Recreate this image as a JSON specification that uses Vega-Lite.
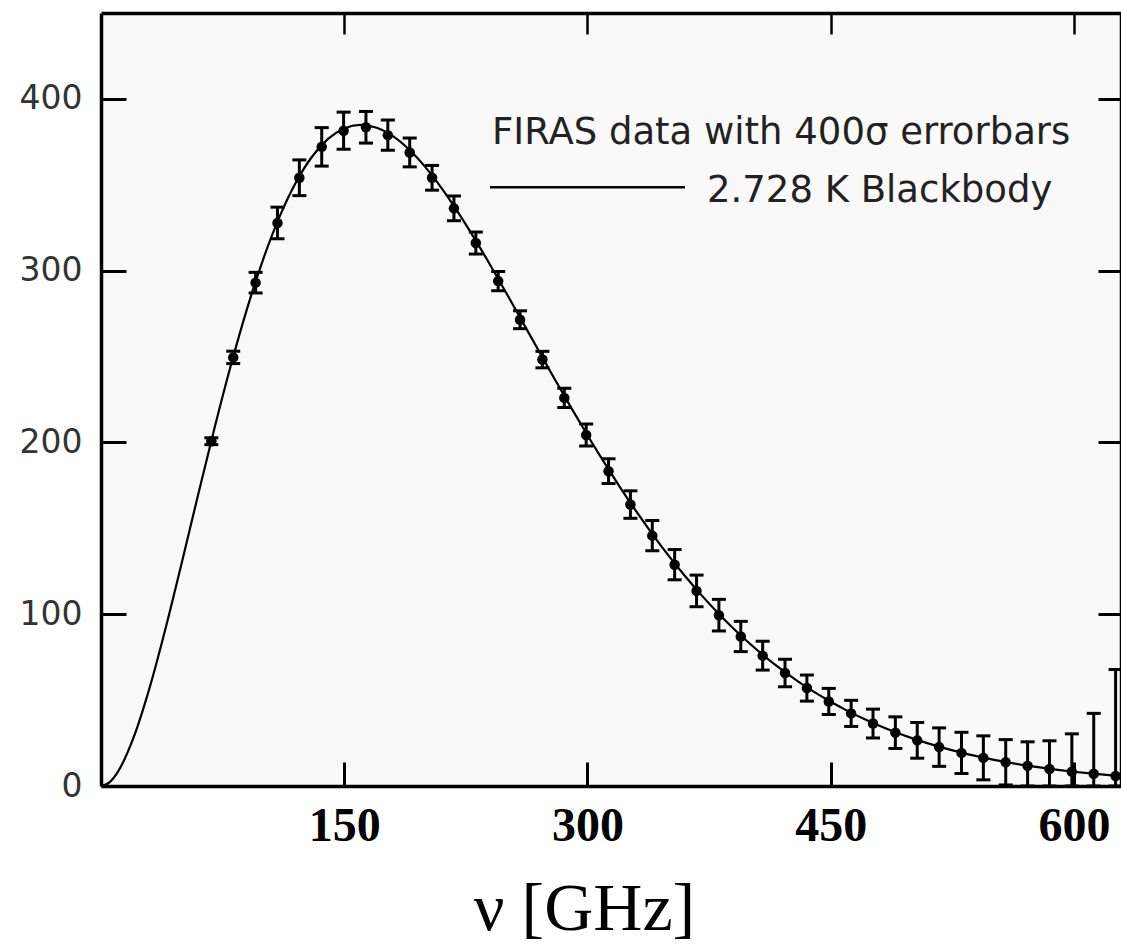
{
  "$schema": "https://vega.github.io/schema/vega-lite/v6.json",
  "width": 1020,
  "height": 773,
  "autosize": {"type": "none"},
  "padding": {"left": 101, "top": 13, "right": 0, "bottom": 159},
  "background": "white",
  "config": {"view": {"fill": "#f9f9f9", "stroke": null}},
  "datasets": {
    "firas": [
      {"nu": 68.05, "I": 200.72, "err": 2.0},
      {"nu": 81.54, "I": 249.51, "err": 3.6},
      {"nu": 95.33, "I": 293.02, "err": 6.0},
      {"nu": 108.82, "I": 327.77, "err": 9.2},
      {"nu": 122.32, "I": 354.08, "err": 10.4},
      {"nu": 136.11, "I": 372.08, "err": 11.2},
      {"nu": 149.6, "I": 381.49, "err": 10.8},
      {"nu": 163.39, "I": 383.48, "err": 9.2},
      {"nu": 176.88, "I": 378.9, "err": 8.8},
      {"nu": 190.37, "I": 368.83, "err": 8.4},
      {"nu": 204.16, "I": 354.06, "err": 7.2},
      {"nu": 217.65, "I": 336.28, "err": 7.2},
      {"nu": 231.14, "I": 316.08, "err": 6.4},
      {"nu": 244.93, "I": 293.92, "err": 5.6},
      {"nu": 258.42, "I": 271.43, "err": 5.2},
      {"nu": 272.21, "I": 248.24, "err": 4.8},
      {"nu": 285.7, "I": 225.94, "err": 5.6},
      {"nu": 299.19, "I": 204.33, "err": 6.4},
      {"nu": 312.98, "I": 183.26, "err": 7.2},
      {"nu": 326.47, "I": 163.83, "err": 8.0},
      {"nu": 339.96, "I": 145.75, "err": 8.8},
      {"nu": 353.75, "I": 128.84, "err": 8.8},
      {"nu": 367.25, "I": 113.57, "err": 9.2},
      {"nu": 381.04, "I": 99.45, "err": 9.2},
      {"nu": 394.53, "I": 87.04, "err": 8.8},
      {"nu": 408.02, "I": 75.88, "err": 8.4},
      {"nu": 421.81, "I": 65.77, "err": 8.0},
      {"nu": 435.3, "I": 57.01, "err": 7.6},
      {"nu": 448.79, "I": 49.22, "err": 7.6},
      {"nu": 462.58, "I": 42.27, "err": 7.6},
      {"nu": 476.07, "I": 36.35, "err": 8.4},
      {"nu": 489.86, "I": 31.06, "err": 9.2},
      {"nu": 503.35, "I": 26.58, "err": 10.4},
      {"nu": 516.84, "I": 22.64, "err": 11.2},
      {"nu": 530.63, "I": 19.26, "err": 12.0},
      {"nu": 544.12, "I": 16.39, "err": 12.8},
      {"nu": 557.91, "I": 13.81, "err": 13.2},
      {"nu": 571.4, "I": 11.72, "err": 14.0},
      {"nu": 584.89, "I": 9.92, "err": 16.4},
      {"nu": 598.69, "I": 8.36, "err": 22.0},
      {"nu": 612.18, "I": 7.09, "err": 35.2},
      {"nu": 625.67, "I": 5.8, "err": 62.0}
    ],
    "blackbody": [
      {"nu": 0, "I": 0}, {"nu": 5, "I": 2.0}, {"nu": 10, "I": 7.67}, {"nu": 20, "I": 27.97},
      {"nu": 30, "I": 57.26}, {"nu": 40, "I": 92.4}, {"nu": 50, "I": 130.71}, {"nu": 60, "I": 169.97},
      {"nu": 70, "I": 208.42}, {"nu": 80, "I": 244.66}, {"nu": 90, "I": 277.64}, {"nu": 100, "I": 306.64},
      {"nu": 110, "I": 331.18}, {"nu": 120, "I": 351.04}, {"nu": 130, "I": 366.17}, {"nu": 140, "I": 376.69},
      {"nu": 150, "I": 382.82}, {"nu": 160, "I": 384.87}, {"nu": 170, "I": 383.23}, {"nu": 180, "I": 378.3},
      {"nu": 190, "I": 370.51}, {"nu": 200, "I": 360.3}, {"nu": 210, "I": 348.09}, {"nu": 220, "I": 334.28},
      {"nu": 230, "I": 319.25}, {"nu": 240, "I": 303.34}, {"nu": 250, "I": 286.86}, {"nu": 260, "I": 270.08},
      {"nu": 270, "I": 253.24}, {"nu": 280, "I": 236.54}, {"nu": 290, "I": 220.14}, {"nu": 300, "I": 204.19},
      {"nu": 310, "I": 188.8}, {"nu": 320, "I": 174.04}, {"nu": 330, "I": 159.99}, {"nu": 340, "I": 146.68},
      {"nu": 350, "I": 134.14}, {"nu": 360, "I": 122.38}, {"nu": 370, "I": 111.4}, {"nu": 380, "I": 101.18},
      {"nu": 390, "I": 91.72}, {"nu": 400, "I": 82.98}, {"nu": 410, "I": 74.93}, {"nu": 420, "I": 67.55},
      {"nu": 430, "I": 60.79}, {"nu": 440, "I": 54.62}, {"nu": 450, "I": 49.0}, {"nu": 460, "I": 43.89},
      {"nu": 470, "I": 39.26}, {"nu": 480, "I": 35.07}, {"nu": 490, "I": 31.29}, {"nu": 500, "I": 27.88},
      {"nu": 510, "I": 24.81}, {"nu": 520, "I": 22.06}, {"nu": 530, "I": 19.59}, {"nu": 540, "I": 17.38},
      {"nu": 550, "I": 15.4}, {"nu": 560, "I": 13.63}, {"nu": 570, "I": 12.05}, {"nu": 580, "I": 10.65},
      {"nu": 590, "I": 9.4}, {"nu": 600, "I": 8.29}, {"nu": 610, "I": 7.31}, {"nu": 620, "I": 6.44},
      {"nu": 630, "I": 5.66}
    ]
  },
  "layer": [
    {
      "data": {"name": "blackbody"},
      "mark": {"type": "line", "color": "black", "strokeWidth": 2.2, "interpolate": "monotone", "clip": true},
      "encoding": {
        "x": {
          "field": "nu", "type": "quantitative",
          "scale": {"domain": [0, 629], "nice": false, "zero": false},
          "axis": {
            "orient": "bottom", "values": [150, 300, 450, 600], "grid": false,
            "tickSize": -24, "tickWidth": 3, "tickColor": "black",
            "domainColor": "black", "domainWidth": 3.5,
            "labelFont": "Liberation Serif", "labelFontWeight": "bold", "labelFontSize": 48,
            "labelColor": "black", "labelBaseline": "alphabetic", "labelPadding": 78,
            "labelFlush": false, "labelOverlap": false,
            "title": "ν [GHz]", "titleFont": "Liberation Serif", "titleFontSize": 68,
            "titleFontWeight": "normal", "titleColor": "black",
            "titleX": 483, "titleY": 143, "titleBaseline": "alphabetic", "titleAlign": "center"
          }
        },
        "y": {
          "field": "I", "type": "quantitative",
          "scale": {"domain": [0, 450], "nice": false, "clamp": true},
          "axis": {
            "orient": "left", "values": [0, 100, 200, 300, 400], "grid": false,
            "tickSize": -25, "tickWidth": 3, "tickColor": "black",
            "domainColor": "black", "domainWidth": 3.5,
            "labelFont": "DejaVu Sans", "labelFontSize": 33, "labelColor": "#333333",
            "labelPadding": 44, "labelBaseline": "middle", "labelFlush": false, "labelOverlap": false,
            "title": null
          }
        }
      }
    },
    {
      "data": {"name": "firas"},
      "mark": {"type": "errorbar", "color": "black", "opacity": 1, "ticks": {"size": 14, "thickness": 3, "color": "black", "opacity": 1}, "rule": {"strokeWidth": 3, "color": "black", "opacity": 1}},
      "encoding": {
        "x": {"field": "nu", "type": "quantitative", "axis": null},
        "y": {"field": "I", "type": "quantitative", "axis": null},
        "yError": {"field": "err"}
      }
    },
    {
      "data": {"name": "firas"},
      "mark": {"type": "point", "shape": "circle", "filled": true, "size": 110, "color": "black", "opacity": 1},
      "encoding": {
        "x": {
          "field": "nu", "type": "quantitative",
          "axis": {
            "orient": "top", "values": [150, 300, 450, 600], "grid": false, "labels": false,
            "tickSize": -21, "tickWidth": 2.5, "tickColor": "black",
            "domainColor": "black", "domainWidth": 3.5, "title": null
          }
        },
        "y": {
          "field": "I", "type": "quantitative",
          "axis": {
            "orient": "right", "values": [100, 200, 300, 400], "grid": false, "labels": false,
            "tickSize": -23, "tickWidth": 3, "tickColor": "black",
            "domainColor": "black", "domainWidth": 3.5, "title": null
          }
        }
      }
    },
    {
      "data": {"values": [{}]},
      "mark": {"type": "text", "font": "DejaVu Sans", "fontSize": 37, "color": "#222222", "align": "left", "baseline": "alphabetic"},
      "encoding": {
        "x": {"datum": 241.1, "type": "quantitative", "axis": null},
        "y": {"datum": 374.0, "type": "quantitative", "axis": null},
        "text": {"value": "FIRAS data with 400σ errorbars"}
      }
    },
    {
      "data": {"values": [{}]},
      "mark": {"type": "text", "font": "DejaVu Sans", "fontSize": 37, "color": "#222222", "align": "left", "baseline": "alphabetic"},
      "encoding": {
        "x": {"datum": 373.7, "type": "quantitative", "axis": null},
        "y": {"datum": 339.7, "type": "quantitative", "axis": null},
        "text": {"value": "2.728 K Blackbody"}
      }
    },
    {
      "data": {"values": [{}]},
      "mark": {"type": "rule", "color": "black", "strokeWidth": 2.5},
      "encoding": {
        "x": {"datum": 239.9, "type": "quantitative", "axis": null},
        "x2": {"datum": 360.1},
        "y": {"datum": 348.5, "type": "quantitative", "axis": null}
      }
    }
  ],
  "resolve": {"axis": {"x": "independent", "y": "independent"}}
}
